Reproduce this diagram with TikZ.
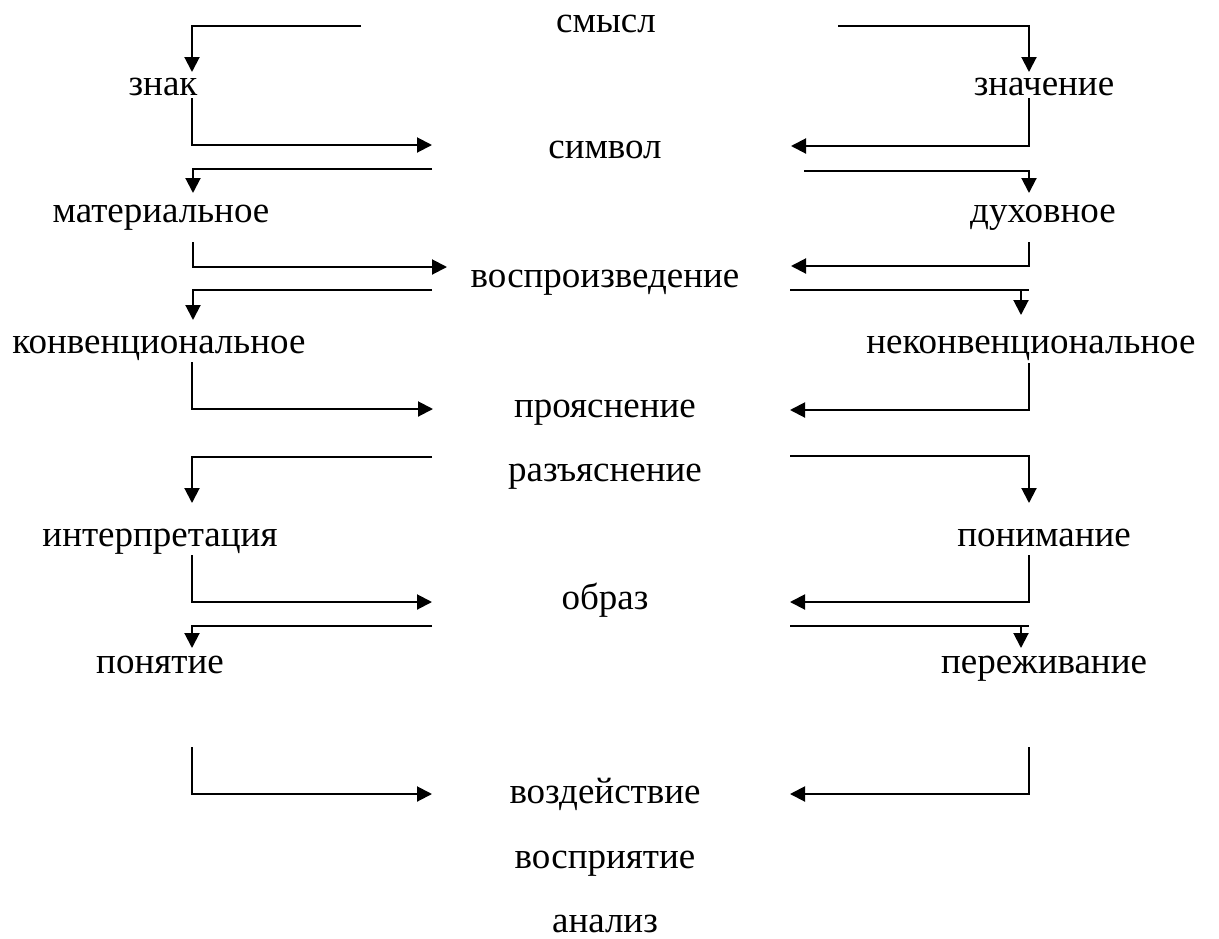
\documentclass[tikz,border=0pt]{standalone}
\usepackage{fontspec}
\usepackage{graphicx}
\setmainfont{Liberation Serif}
\usetikzlibrary{arrows.meta}
\newcommand{\vstr}[1]{\scalebox{1}[1.0]{#1}}
\tikzset{
  wrd/.style={inner sep=0pt, anchor=base, font=\fontsize{37}{40}\selectfont},
  ln/.style={line width=2pt},
  arr/.style={line width=2pt, -{Triangle[length=15pt,width=15pt]}}
}
\begin{document}
\begin{tikzpicture}[x=1pt,y=-1pt]
\useasboundingbox (0,0) rectangle (1219,938);
% words
\node[wrd] (smysl) at (606,32) {\vstr{смысл}};
\node[wrd] (znak) at (163,95) {\vstr{знак}};
\node[wrd] (znach) at (1044,95) {\vstr{значение}};
\node[wrd] (simv) at (605,158) {\vstr{символ}};
\node[wrd] (mater) at (161,222.7) {\vstr{материальное}};
\node[wrd] (duh) at (1043,222.7) {\vstr{духовное}};
\node[wrd] (vospr) at (605,287) {\vstr{воспроизведение}};
\node[wrd] (konv) at (159,353) {\vstr{конвенциональное}};
\node[wrd] (nekonv) at (1031,353) {\vstr{неконвенциональное}};
\node[wrd] (proy) at (605,417) {\vstr{прояснение}};
\node[wrd] (razy) at (605,481) {\vstr{разъяснение}};
\node[wrd] (interp) at (160,546) {\vstr{интерпретация}};
\node[wrd] (ponim) at (1044,546) {\vstr{понимание}};
\node[wrd] (obraz) at (605,609) {\vstr{образ}};
\node[wrd] (ponyat) at (160,673) {\vstr{понятие}};
\node[wrd] (perezh) at (1044,673) {\vstr{переживание}};
\node[wrd] (vozd) at (605,803) {\vstr{воздействие}};
\node[wrd] (vospri) at (605,868) {\vstr{восприятие}};
\node[wrd] (analiz) at (605,932) {\vstr{анализ}};
% connector end points, left side
\coordinate (a1s) at (361,26);   \coordinate (a1e) at (192,72);
\coordinate (a2s) at (192,98);   \coordinate (a2e) at (432,145);
\coordinate (a3s) at (432,169);  \coordinate (a3e) at (193,193);
\coordinate (a4s) at (193,242);  \coordinate (a4e) at (447,267);
\coordinate (a5s) at (432,290);  \coordinate (a5e) at (193,320);
\coordinate (a6s) at (192,362);  \coordinate (a6e) at (433,409);
\coordinate (a7s) at (432,457);  \coordinate (a7e) at (192,503);
\coordinate (a8s) at (192,555);  \coordinate (a8e) at (432,602);
\coordinate (a9s) at (432,626);  \coordinate (a9e) at (192,648);
\coordinate (a10s) at (192,747); \coordinate (a10e) at (432,794);
% right side
\coordinate (b1s) at (838,26);   \coordinate (b1e) at (1029,72);
\coordinate (b2s) at (1029,98);  \coordinate (b2e) at (791,146);
\coordinate (b3s) at (804,171);  \coordinate (b3e) at (1029,193);
\coordinate (b4s) at (1029,242); \coordinate (b4e) at (791,266);
\coordinate (b5s) at (790,290);  \coordinate (b5m) at (1029,290);
\coordinate (b5a) at (1021,290); \coordinate (b5e) at (1021,315);
\coordinate (b6s) at (1029,363); \coordinate (b6e) at (790,410);
\coordinate (b7s) at (790,456);  \coordinate (b7e) at (1029,503);
\coordinate (b8s) at (1029,555); \coordinate (b8e) at (790,602);
\coordinate (b9s) at (790,626);  \coordinate (b9m) at (1029,626);
\coordinate (b9a) at (1021,626); \coordinate (b9e) at (1021,648);
\coordinate (b10s) at (1029,747); \coordinate (b10e) at (790,794);
% left connectors
\draw[arr] (a1s) -| (a1e);
\draw[arr] (a2s) |- (a2e);
\draw[arr] (a3s) -| (a3e);
\draw[arr] (a4s) |- (a4e);
\draw[arr] (a5s) -| (a5e);
\draw[arr] (a6s) |- (a6e);
\draw[arr] (a7s) -| (a7e);
\draw[arr] (a8s) |- (a8e);
\draw[arr] (a9s) -| (a9e);
\draw[arr] (a10s) |- (a10e);
% right connectors
\draw[arr] (b1s) -| (b1e);
\draw[arr] (b2s) |- (b2e);
\draw[arr] (b3s) -| (b3e);
\draw[arr] (b4s) |- (b4e);
\draw[ln] (b5s) -- (b5m);
\draw[arr] (b5a) -- (b5e);
\draw[arr] (b6s) |- (b6e);
\draw[arr] (b7s) -| (b7e);
\draw[arr] (b8s) |- (b8e);
\draw[ln] (b9s) -- (b9m);
\draw[arr] (b9a) -- (b9e);
\draw[arr] (b10s) |- (b10e);
\end{tikzpicture}
\end{document}
